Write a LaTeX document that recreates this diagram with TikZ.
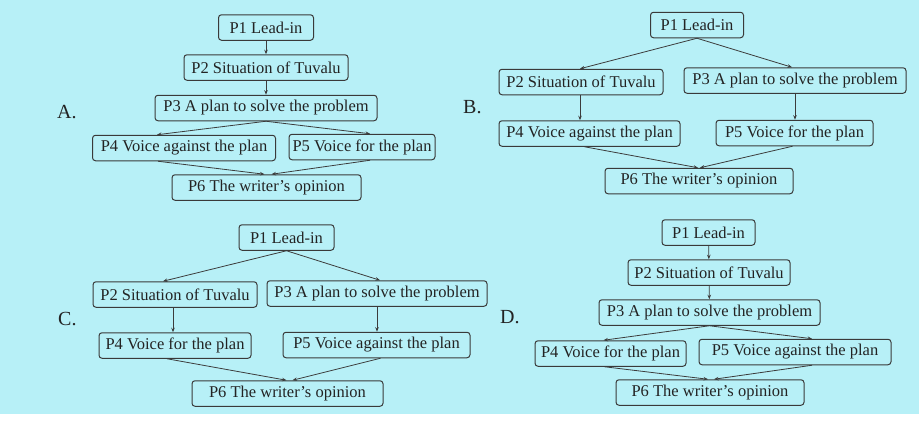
\documentclass[tikz,border=0pt]{standalone}
\usepackage{fontspec}
\setmainfont{Liberation Serif}
\usepackage{tikz}
\usetikzlibrary{positioning,arrows.meta}
\definecolor{paper}{RGB}{183,240,247}
\definecolor{boxdraw}{RGB}{58,58,58}
\definecolor{inkc}{RGB}{35,35,35}
\definecolor{linec}{RGB}{60,60,60}

\begin{document}
\begin{tikzpicture}[x=1pt, y=-1pt,
  box/.style={draw=boxdraw, rounded corners=3pt, line width=1pt, text=inkc, inner xsep=2pt, inner ysep=0pt, minimum height=25.5pt, font=\fontsize{16.5}{18}\selectfont},
  opt/.style={font=\fontsize{20}{22}\selectfont, text=inkc, anchor=base west, inner sep=0pt},
  arr/.style={-{Stealth[length=4.5pt,width=3.5pt]}, line width=0.8pt, draw=linec},
]
\useasboundingbox (0,0) rectangle (924,424);
\fill[white] (0,0) rectangle (924,424);
\fill[paper] (0,0) rectangle (919,414);

% ============ A ============
\node[opt] (la) at (57,118) {A.};
\node[box, minimum width=95pt]  (a1) at (266,27.5)  {P1 Lead-in};
\node[box, minimum width=164pt] (a2) at (266,67.5)  {P2 Situation of Tuvalu};
\node[box, minimum width=222pt] (a3) at (266,108)   {P3 A plan to solve the problem};
\node[box, minimum width=183pt] (a4) at (184,148)   {P4 Voice against the plan};
\node[box, minimum width=146pt] (a5) at (362,147)   {P5 Voice for the plan};
\node[box, minimum width=189pt] (a6) at (266.5,187.5) {P6 The writer’s opinion};
\draw[arr] (a1)--(a2); \draw[arr] (a2)--(a3);
\draw[arr] (a3.south)--([xshift=-27pt]a4.north);
\draw[arr] (a3.south)--([xshift=8pt]a5.north);
\draw[arr] ([xshift=-26pt]a4.south)--([xshift=-2pt]a6.north);
\draw[arr] ([xshift=8pt]a5.south)--([xshift=5pt]a6.north);

% ============ B ============
\node[opt] (lb) at (463,113) {B.};
\node[box, minimum width=93pt]  (b1) at (697,25)    {P1 Lead-in};
\node[box, minimum width=164pt] (b2) at (581,82)    {P2 Situation of Tuvalu};
\node[box, minimum width=222pt] (b3) at (795,80.5)  {P3 A plan to solve the problem};
\node[box, minimum width=181pt] (b4) at (589.5,133.5) {P4 Voice against the plan};
\node[box, minimum width=157pt] (b5) at (794.5,133) {P5 Voice for the plan};
\node[box, minimum width=188pt] (b6) at (699,181)   {P6 The writer’s opinion};
\draw[arr] (b1.south)--([xshift=-1pt]b2.north);
\draw[arr] (b1.south)--([xshift=-3pt]b3.north);
\draw[arr] ([xshift=-1pt]b2.south)--([xshift=-1pt]b2.south |- b4.north);
\draw[arr] (b3.south)--(b3.south |- b5.north);
\draw[arr] ([xshift=-5pt]b4.south)--([xshift=-1pt]b6.north);
\draw[arr] ([xshift=-2pt]b5.south)--([xshift=1pt]b6.north);

% ============ C ============
\node[opt] (lc) at (58,325) {C.};
\node[box, minimum width=95pt]  (c1) at (286.5,237.5) {P1 Lead-in};
\node[box, minimum width=164pt] (c2) at (175,294.5)   {P2 Situation of Tuvalu};
\node[box, minimum width=220pt] (c3) at (377,293.5)   {P3 A plan to solve the problem};
\node[box, minimum width=152pt] (c4) at (175,345.5)   {P4 Voice for the plan};
\node[box, minimum width=187pt] (c5) at (376.5,345)   {P5 Voice against the plan};
\node[box, minimum width=191pt] (c6) at (287.5,393.5) {P6 The writer’s opinion};
\draw[arr] (c1.south)--([xshift=-12pt]c2.north);
\draw[arr] (c1.south)--([xshift=3pt]c3.north);
\draw[arr] ([xshift=-2pt]c2.south)--([xshift=-2pt]c2.south |- c4.north);
\draw[arr] (c3.south)--(c3.south |- c5.north);
\draw[arr] ([xshift=-8pt]c4.south)--([xshift=-1pt]c6.north);
\draw[arr] ([xshift=4pt]c5.south)--([xshift=5pt]c6.north);

% ============ D ============
\node[opt] (ld) at (500,323) {D.};
\node[box, minimum width=93pt]  (d1) at (708.5,232.5) {P1 Lead-in};
\node[box, minimum width=162pt] (d2) at (709,272.5)   {P2 Situation of Tuvalu};
\node[box, minimum width=221pt] (d3) at (709.5,312.5) {P3 A plan to solve the problem};
\node[box, minimum width=151pt] (d4) at (610.5,353.5) {P4 Voice for the plan};
\node[box, minimum width=192pt] (d5) at (795,352)     {P5 Voice against the plan};
\node[box, minimum width=188pt] (d6) at (710,392.5)   {P6 The writer’s opinion};
\draw[arr] (d1)--(d2); \draw[arr] (d2)--(d3);
\draw[arr] (d3.south)--([xshift=-7pt]d4.north);
\draw[arr] (d3.south)--([xshift=17pt]d5.north);
\draw[arr] ([xshift=-6pt]d4.south)--([xshift=-2pt]d6.north);
\draw[arr] ([xshift=17pt]d5.south)--([xshift=4pt]d6.north);
\end{tikzpicture}
\end{document}
